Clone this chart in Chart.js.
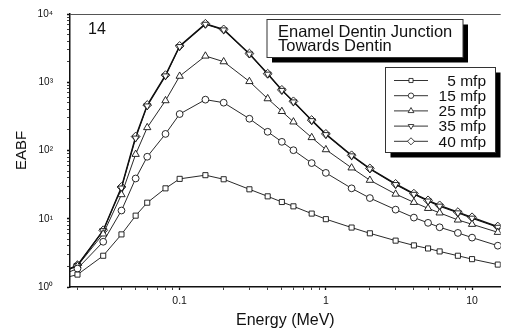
<!DOCTYPE html>
<html>
<head>
<meta charset="utf-8">
<script src="https://cdn.jsdelivr.net/npm/chart.js@4/dist/chart.umd.min.js"></script>
<style>
  html, body { margin: 0; padding: 0; background: #fff; }
  #wrap { position: relative; width: 506px; height: 334px; }
</style>
</head>
<body>
<div id="wrap"><canvas id="eabfChart" width="506" height="334"></canvas></div>
<script>
// photon energies (MeV)
const energy = [0.015, 0.02, 0.03, 0.04, 0.05, 0.06, 0.08, 0.1, 0.15, 0.2, 0.3, 0.4, 0.5, 0.6, 0.8, 1, 1.5, 2, 3, 4, 5, 6, 8, 10, 15];

// EABF per penetration depth
const mfp5  = [1.3, 1.52, 2.87, 5.9, 11.1, 17.2, 27.9, 38.4, 43.5, 37.9, 27, 21.3, 17.6, 15.2, 11.9, 9.86, 7.43, 6.12, 4.78, 4.07, 3.67, 3.32, 2.87, 2.56, 2.13];
const mfp15 = [1.45, 1.86, 4.6, 13.2, 38.9, 81, 175, 342, 556, 502, 292, 188, 134, 101, 65.4, 47, 27.9, 20.1, 13.6, 10.4, 8.71, 7.5, 6.2, 5.29, 4.03];
const mfp25 = [1.55, 2.04, 6.0, 22.6, 88, 217, 538, 1228, 2425, 2002, 1026, 575, 374, 263, 155, 103, 55.7, 36.7, 23, 17.4, 14.2, 12.2, 9.6, 8.3, 6.33];
const mfp35 = [1.58, 2.07, 6.7, 28.2, 152, 450, 1240, 3330, 7080, 5850, 2590, 1315, 760, 515, 274, 171, 83.5, 53.6, 31.7, 22.8, 18.2, 15.3, 12.2, 10.2, 7.5];
const mfp40 = [1.6, 2.09, 6.78, 29.2, 160, 464, 1271, 3404, 7190, 5940, 2630, 1333, 773, 525, 279, 175, 85, 54.6, 32.4, 23.3, 18.6, 15.7, 12.5, 10.5, 7.69];

const seriesLabels = ['5 mfp', '15 mfp', '25 mfp', '35 mfp', '40 mfp'];
const seriesValues = [mfp5, mfp15, mfp25, mfp35, mfp40];

// axis ticks
const xMajor = [0.1, 1, 10];
const xMinor = [0.02, 0.03, 0.04, 0.05, 0.06, 0.07, 0.08, 0.09,
                0.2, 0.3, 0.4, 0.5, 0.6, 0.7, 0.8, 0.9,
                2, 3, 4, 5, 6, 7, 8, 9];
const xTickLabels = ['0.1', '1', '10'];
const yMajor = [1, 10, 100, 1000, 10000];
const yTickLabels = ['10\u2070', '10\u00b9', '10\u00b2', '10\u00b3', '10\u2074'];

const panelNumber = '14';
const noteLines = ['Enamel Dentin Junction', 'Towards Dentin'];

const FONT = '"Liberation Sans", Arial, sans-serif';

const markers = [
    { pointStyle: 'rect', rotation: 0, radius: 3.6 },
    { pointStyle: 'circle', rotation: 0, radius: 3.4 },
    { pointStyle: 'triangle', rotation: 0, radius: 4.2 },
    { pointStyle: 'triangle', rotation: 180, radius: 4.0 },
    { pointStyle: 'rectRot', rotation: 0, radius: 4.4 }
];
const lineWidths = [0.9, 0.9, 0.9, 1.1, 1.3];

function minorTicks(major, minor) {
    return major.concat(minor).sort((a, b) => a - b).map(v => ({ value: v }));
}

const datasets = seriesValues.map((vals, i) => ({
    label: seriesLabels[i],
    data: energy.map((e, j) => ({ x: e, y: vals[j] })),
    borderColor: '#111',
    borderWidth: lineWidths[i],
    backgroundColor: '#fff',
    pointBackgroundColor: '#fff',
    pointBorderColor: '#111',
    pointBorderWidth: 0.9,
    pointStyle: markers[i].pointStyle,
    pointRotation: markers[i].rotation,
    pointRadius: markers[i].radius,
    tension: 0
}));

// boxes with drop shadow, panel number, legend, top frame line
const overlayPlugin = {
    id: 'overlay',
    afterDraw(chart) {
        const ctx = chart.ctx;
        const area = chart.chartArea;
        ctx.save();

        // top frame
        ctx.strokeStyle = '#555';
        ctx.lineWidth = 1;
        ctx.beginPath();
        ctx.moveTo(area.left, area.top + 0.5);
        ctx.lineTo(area.right, area.top + 0.5);
        ctx.stroke();

        // panel number
        ctx.fillStyle = '#111';
        ctx.font = '16px ' + FONT;
        ctx.textBaseline = 'middle';
        ctx.textAlign = 'left';
        ctx.fillText(panelNumber, 88, 30);

        // note box
        shadowBox(ctx, 267, 19.5, 196, 38, 5);
        ctx.fillStyle = '#111';
        ctx.font = '16.5px ' + FONT;
        ctx.fillText(noteLines[0], 278, 32);
        ctx.fillText(noteLines[1], 278, 46.5);

        // legend box
        shadowBox(ctx, 385.5, 67.5, 110, 85, 5);
        ctx.font = '15.5px ' + FONT;
        ctx.textAlign = 'right';
        chart.data.datasets.forEach((ds, i) => {
            const y = 80.5 + i * 15.2;
            ctx.strokeStyle = '#333';
            ctx.lineWidth = 1;
            ctx.beginPath();
            ctx.moveTo(394, y);
            ctx.lineTo(428, y);
            ctx.stroke();
            ctx.fillStyle = '#fff';
            ctx.strokeStyle = '#111';
            ctx.lineWidth = 0.8;
            Chart.helpers.drawPoint(ctx, {
                pointStyle: markers[i].pointStyle,
                rotation: markers[i].rotation,
                radius: markers[i].radius * 0.8,
                borderWidth: 0.8
            }, 411, y);
            ctx.fillStyle = '#111';
            ctx.fillText(ds.label, 486, y + 1);
        });

        ctx.restore();
    }
};

function shadowBox(ctx, x, y, w, h, off) {
    ctx.fillStyle = '#000';
    ctx.fillRect(x + off, y + off, w, h);
    ctx.fillStyle = '#fff';
    ctx.fillRect(x, y, w, h);
    ctx.strokeStyle = '#333';
    ctx.lineWidth = 1;
    ctx.strokeRect(x, y, w, h);
}

new Chart(document.getElementById('eabfChart'), {
    type: 'line',
    data: { datasets: datasets },
    plugins: [overlayPlugin],
    options: {
        responsive: false,
        animation: false,
        events: [],
        layout: { padding: { top: 14, right: 0, left: 0, bottom: 0 } },
        plugins: {
            legend: { display: false },
            tooltip: { enabled: false }
        },
        scales: {
            x: {
                type: 'logarithmic',
                min: 0.01778,
                max: 15.7,
                afterBuildTicks: scale => { scale.ticks = minorTicks(xMajor, xMinor); },
                afterFit: scale => {
                    scale.height = 47;
                    scale.paddingLeft = 0;
                    scale.paddingRight = 0;
                },
                border: { display: true, color: '#111', width: 1.5 },
                grid: {
                    drawOnChartArea: false,
                    drawTicks: true,
                    tickLength: 3,
                    tickColor: '#111',
                    tickWidth: ctx => xMajor.includes(ctx.tick && ctx.tick.value) ? 1.3 : 0.8
                },
                ticks: {
                    autoSkip: false,
                    maxRotation: 0,
                    color: '#111',
                    padding: 5,
                    font: { family: FONT, size: 10.5 },
                    callback: v => {
                        const k = xMajor.indexOf(v);
                        return k >= 0 ? xTickLabels[k] : '';
                    }
                },
                title: {
                    display: true,
                    text: 'Energy (MeV)',
                    color: '#111',
                    font: { family: FONT, size: 16 },
                    padding: { top: 2, bottom: 4 }
                }
            },
            y: {
                type: 'logarithmic',
                min: 1,
                max: 10000,
                afterBuildTicks: scale => {
                    const t = [];
                    for (let d = 1; d < 10000; d *= 10) {
                        for (let m = 1; m < 10; m++) t.push(d * m);
                    }
                    t.push(10000);
                    scale.ticks = t.map(v => ({ value: v }));
                },
                afterFit: scale => {
                    scale.width = 70;
                    scale.paddingTop = 0;
                    scale.paddingBottom = 0;
                },
                border: { display: true, color: '#111', width: 1.5 },
                grid: {
                    drawOnChartArea: false,
                    drawTicks: true,
                    tickLength: 3,
                    tickColor: '#111',
                    tickWidth: ctx => yMajor.includes(ctx.tick && ctx.tick.value) ? 1.3 : 0.8
                },
                ticks: {
                    autoSkip: false,
                    color: '#111',
                    padding: 14,
                    font: { family: FONT, size: 10 },
                    callback: v => {
                        const k = yMajor.indexOf(v);
                        return k >= 0 ? yTickLabels[k] : '';
                    }
                },
                title: {
                    display: true,
                    text: 'EABF',
                    color: '#111',
                    font: { family: FONT, size: 15 },
                    padding: { top: 13, bottom: 0 }
                }
            }
        }
    }
});
</script>
</body>
</html>
